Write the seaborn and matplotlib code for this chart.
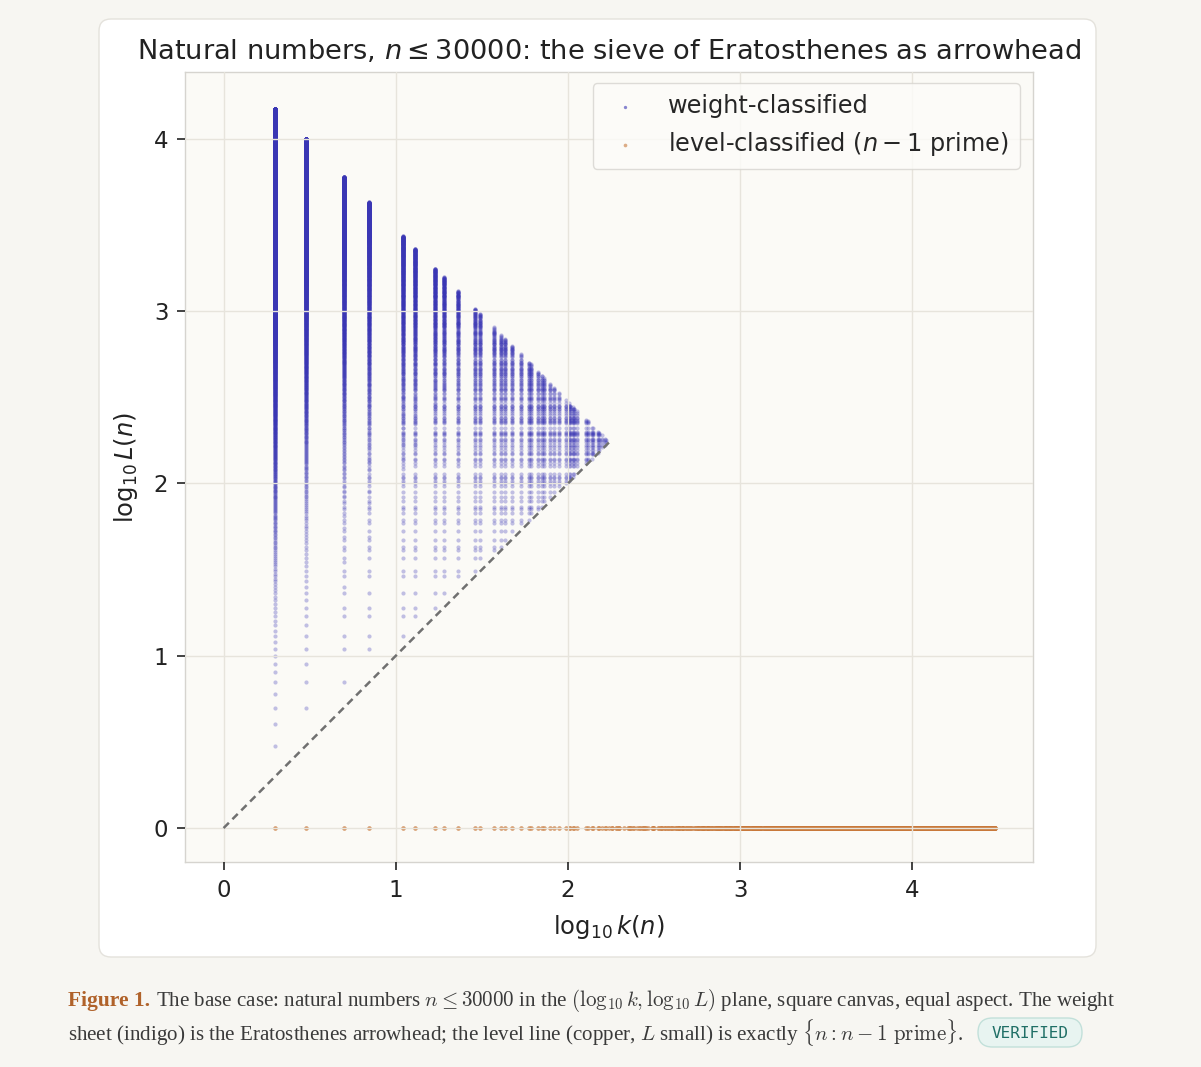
"""
Natural numbers n <= 30000 in the (log10 k, log10 L) plane
weight sheet (Eratosthenes arrowhead) + level line (n-1 prime)
"""
import matplotlib
matplotlib.use("Agg")
import matplotlib.pyplot as plt
from matplotlib.patches import FancyBboxPatch
import numpy as np
import pandas as pd
import seaborn as sns

# ── data ────────────────────────────────────────────────────────────────────
N_MAX = 30000                      # natural numbers n <= N_MAX
X_TICKS = [0, 1, 2, 3, 4]
Y_TICKS = [0, 1, 2, 3, 4]
LEGEND_LABELS = ["weight-classified", "level-classified ($n-1$ prime)"]

# smallest prime factor sieve (the points are exact, not estimated)
spf = np.zeros(N_MAX + 1, dtype=int)
for p in range(2, N_MAX + 1):
    if spf[p] == 0:
        block = spf[p::p]
        block[block == 0] = p
        spf[p::p] = block
n_all = np.arange(2, N_MAX + 1)
k_all = spf[2:]
L_all = n_all // k_all

weight = pd.DataFrame({"k": k_all, "L": L_all})
weight = weight[weight["L"] > weight["k"]]
weight["x"] = np.log10(weight["k"])
weight["y"] = np.log10(weight["L"])

primes = n_all[k_all == n_all]
primes = primes[primes + 1 <= N_MAX]
level = pd.DataFrame({"x": np.log10(primes), "y": np.zeros(len(primes))})

# ── style ───────────────────────────────────────────────────────────────────
sns.set_theme(style="whitegrid")
plt.rcParams["font.family"] = ["DejaVu Sans"]
plt.rcParams["mathtext.fontset"] = "dejavusans"

PAGE = "#f7f6f2"
CARD = "#ffffff"
AX_BG = "#fbfaf6"
INDIGO = "#3a36b4"
COPPER = "#c8783a"
INK = "#222222"

fig = plt.figure(figsize=(12.01, 10.67), dpi=100, facecolor=PAGE)
card = FancyBboxPatch((0.99, 1.10), 9.97, 9.38,
                      boxstyle="round,pad=0,rounding_size=0.12",
                      transform=fig.dpi_scale_trans, facecolor=CARD,
                      edgecolor="#e4e2dc", linewidth=1.0, zorder=-10)
fig.patches.append(card)

ax = fig.add_axes([185 / 1201, 1 - 862 / 1067, 848 / 1201, 790 / 1067])
ax.set_facecolor(AX_BG)

sns.scatterplot(data=weight, x="x", y="y", ax=ax, s=9, color=INDIGO,
                alpha=0.3, linewidth=0, label=LEGEND_LABELS[0], zorder=2)
sns.scatterplot(data=level, x="x", y="y", ax=ax, s=11, color=COPPER,
                alpha=0.75, linewidth=0, label=LEGEND_LABELS[1], zorder=2)

tip = np.log10(N_MAX) / 2
ax.plot([0, tip], [0, tip], ls=(0, (3, 2)), color="#707070", lw=1.8, zorder=3)

ax.set_xlim(-0.224, 4.70)
ax.set_ylim(-0.197, 4.388)
ax.set_aspect("equal", adjustable="datalim")
ax.set_xticks(X_TICKS)
ax.set_yticks(Y_TICKS)
ax.grid(True, color="#e7e4dc", lw=1.0)
ax.set_axisbelow(False)
for sp in ax.spines.values():
    sp.set_color("#d6d4cf")
    sp.set_linewidth(1.0)
ax.tick_params(axis="both", which="major", length=6, width=1.2, color=INK,
               labelsize=16.5, labelcolor=INK, direction="out",
               bottom=True, left=True, pad=6)

ax.set_xlabel(r"$\log_{10}k(n)$", fontsize=17.5, color=INK, labelpad=8)
ax.set_ylabel(r"$\log_{10}L(n)$", fontsize=17.5, color=INK, labelpad=10)
ax.set_title(r"Natural numbers, $n \leq 30000$: the sieve of Eratosthenes as arrowhead",
             fontsize=19.6, color=INK, pad=9)

leg = ax.legend(loc="upper right", fontsize=17.3, markerscale=0.8,
                frameon=True, borderpad=0.45, handletextpad=0.9,
                handlelength=1.8, borderaxespad=0,
                bbox_to_anchor=(0.9847, 0.986))
leg.get_frame().set_facecolor("#fdfcf9")
leg.get_frame().set_edgecolor("#d6d4cf")
for h in leg.legend_handles:
    h.set_alpha(0.6)

# ── caption ─────────────────────────────────────────────────────────────────
SERIF = "Liberation Serif"
CAP_FS = 15.1
cap_y1 = 1 - 1001 / 1067
cap_y2 = 1 - 1033 / 1067
fig_lbl = fig.text(68 / 1201, cap_y1, "Figure 1.", fontsize=CAP_FS + 0.4, fontweight="bold",
                   color="#b0622a", family=SERIF, va="center")
fig.canvas.draw()
bb = fig_lbl.get_window_extent()
fig.text((bb.x1 + 6) / 1201, cap_y1,
         r"The base case: natural numbers $n \leq 30000$ in the "
         r"$(\log_{10} k, \log_{10} L)$ plane, square canvas, equal aspect. The weight",
         fontsize=CAP_FS, color="#3a3a3a", family=SERIF,
         math_fontfamily="cm", va="center")
fig.text(68 / 1201, cap_y2,
         r"sheet (indigo) is the Eratosthenes arrowhead; the level line (copper, "
         r"$L$ small) is exactly $\{n : n-1\ \mathrm{prime}\}$.",
         fontsize=CAP_FS, color="#3a3a3a", family=SERIF,
         math_fontfamily="cm", va="center")
badge = FancyBboxPatch((9.78, 10.67 - 10.47), 1.04, 0.29,
                       boxstyle="round,pad=0,rounding_size=0.145",
                       transform=fig.dpi_scale_trans, facecolor="#e8f4f1",
                       edgecolor="#c2e0da", linewidth=1.0)
fig.patches.append(badge)
fig.text(1030 / 1201, cap_y2, "VERIFIED", fontsize=11.5, color="#1f6f66",
         family="DejaVu Sans Mono", ha="center", va="center")

fig.savefig("out.png", dpi=100, facecolor=PAGE)
